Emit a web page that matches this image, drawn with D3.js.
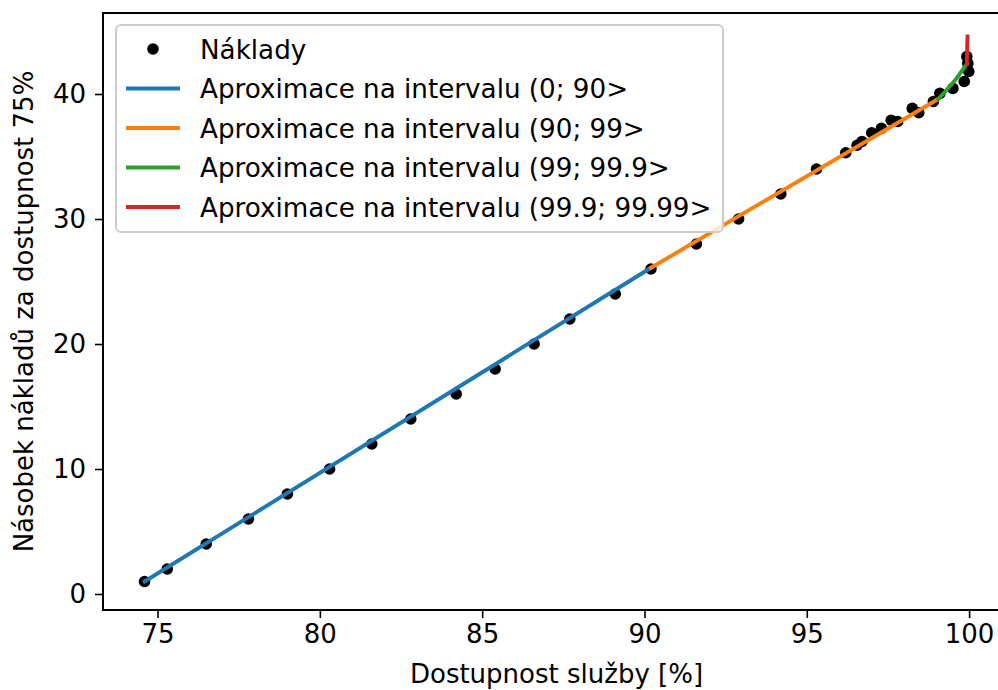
<!DOCTYPE html>
<html>
<head>
<meta charset="utf-8">
<script src="https://cdn.jsdelivr.net/npm/d3@7"></script>
<style>
  html, body { margin: 0; padding: 0; background: #fff; overflow: hidden; }
  svg { display: block; }
  text { font-family: "DejaVu Sans", sans-serif; fill: #000; }
</style>
</head>
<body>
<script>
// ---- data ----
const costX = [74.6, 75.3, 76.5, 77.8, 79.0, 80.3, 81.6, 82.8, 84.2, 85.4, 86.6, 87.7, 89.1, 90.2,
  91.6, 92.9, 94.2, 95.3, 96.2, 96.55, 96.7, 97.0, 97.3, 97.6, 97.8, 98.25, 98.45, 98.9, 99.1,
  99.5, 99.85, 99.93, 99.96, 99.99];
const costY = [1, 2, 4, 6, 8, 10, 12, 14, 16, 18, 20, 22, 24, 26,
  28, 30, 32, 34, 35.3, 35.9, 36.2, 36.9, 37.25, 37.9, 37.8, 38.85, 38.5, 39.4, 40.05,
  40.45, 41.0, 43.0, 42.45, 41.8];

const approx1X = [74.6, 90.2];   const approx1Y = [1.0, 26.1];
const approx2X = [90.2, 99.05];  const approx2Y = [26.1, 39.6];
const approx3X = [99.05, 99.3, 99.6, 99.93]; const approx3Y = [39.6, 40.3, 41.2, 42.4];
const approx4X = [99.93, 99.95]; const approx4Y = [42.4, 44.6];

const seriesNames = ["Náklady",
  "Aproximace na intervalu (0; 90>",
  "Aproximace na intervalu (90; 99>",
  "Aproximace na intervalu (99; 99.9>",
  "Aproximace na intervalu (99.9; 99.99>"];
const seriesColors = ["#000000", "#1f77b4", "#ff7f0e", "#2ca02c", "#d62728"];

const xTicks = [75, 80, 85, 90, 95, 100];
const yTicks = [0, 10, 20, 30, 40];
const xTitle = "Dostupnost služby [%]";
const yTitle = "Násobek nákladů za dostupnost 75%";

// ---- layout ----
const W = 998, H = 690;
const mLeft = 103, mRight = 1010, mTop = 13, mBottom = 610;
const FONT = 26;

const svg = d3.select("body").append("svg").attr("width", W).attr("height", H);

const x = d3.scaleLinear().domain([73.32, 101.26]).range([mLeft, mRight]);
const y = d3.scaleLinear().domain([-1.28, 46.48]).range([mBottom, mTop]);

// data points
const pts = costX.map((d, i) => [d, costY[i]]);
svg.append("g").selectAll("circle").data(pts).join("circle")
  .attr("cx", d => x(d[0])).attr("cy", d => y(d[1])).attr("r", 5.8)
  .attr("fill", "#000");

// approximation lines
const line = d3.line().x(d => x(d[0])).y(d => y(d[1]));
const lines = [
  [approx1X, approx1Y], [approx2X, approx2Y], [approx3X, approx3Y], [approx4X, approx4Y]
];
lines.forEach((l, i) => {
  const data = l[0].map((v, j) => [v, l[1][j]]);
  svg.append("path").datum(data).attr("d", line)
    .attr("fill", "none").attr("stroke", seriesColors[i + 1])
    .attr("stroke-width", 3.9).attr("stroke-linecap", "square");
});

// axes
const xAxis = d3.axisBottom(x).tickValues(xTicks).tickSize(8).tickPadding(7).tickFormat(d3.format("d"));
const gx = svg.append("g").attr("transform", `translate(0,${mBottom})`).call(xAxis);
const yAxis = d3.axisLeft(y).tickValues(yTicks).tickSize(8).tickPadding(9).tickFormat(d3.format("d"));
const gy = svg.append("g").attr("transform", `translate(${mLeft},0)`).call(yAxis);
[gx, gy].forEach(g => {
  g.select(".domain").remove();
  g.selectAll(".tick line").attr("stroke", "#000").attr("stroke-width", 1.6);
  g.selectAll(".tick text").attr("font-size", FONT).attr("font-family", "DejaVu Sans").attr("fill", "#000");
});

// frame (spines)
svg.append("rect").attr("x", mLeft).attr("y", mTop)
  .attr("width", mRight - mLeft).attr("height", mBottom - mTop)
  .attr("fill", "none").attr("stroke", "#000").attr("stroke-width", 2);

// axis titles
svg.append("text").attr("x", (mLeft + mRight) / 2).attr("y", 683)
  .attr("text-anchor", "middle").attr("font-size", FONT).text(xTitle);
svg.append("text").attr("transform", `translate(33,${(mTop + mBottom) / 2}) rotate(-90)`)
  .attr("text-anchor", "middle").attr("font-size", FONT).text(yTitle);

// legend
const lg = svg.append("g");
lg.append("rect").attr("x", 116).attr("y", 25).attr("width", 607).attr("height", 207)
  .attr("rx", 5).attr("fill", "#fff").attr("fill-opacity", 0.8)
  .attr("stroke", "#cccccc").attr("stroke-width", 2);
seriesNames.forEach((name, i) => {
  const cy = 49 + i * 39.5;
  if (i === 0) {
    lg.append("circle").attr("cx", 153).attr("cy", cy).attr("r", 5.8).attr("fill", "#000");
  } else {
    lg.append("line").attr("x1", 126).attr("x2", 180).attr("y1", cy).attr("y2", cy)
      .attr("stroke", seriesColors[i]).attr("stroke-width", 3.9);
  }
  lg.append("text").attr("x", 200).attr("y", cy + 9.5).attr("font-size", 26.2).text(name);
});
</script>
</body>
</html>
